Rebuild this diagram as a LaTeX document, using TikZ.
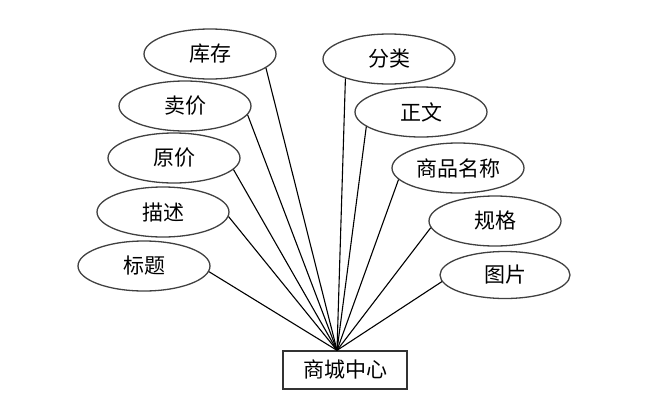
\documentclass[tikz,border=0pt]{standalone}
\usepackage{fontspec}
\newfontfamily\cjk{Noto Sans CJK SC}
\usetikzlibrary{shapes.geometric}
\begin{document}
\begin{tikzpicture}[x=1pt,y=-1pt,
  attr/.style={ellipse,draw=black!75,line width=1.3pt,minimum width=132pt,minimum height=50pt,inner sep=0pt,font=\cjk\fontsize{21}{24}\selectfont},
  ent/.style={rectangle,draw=black!80,line width=1.3pt,minimum width=124pt,minimum height=38pt,inner sep=0pt,font=\cjk\fontsize{21}{24}\selectfont},
  link/.style={draw=black,line width=1.1pt}]
\useasboundingbox (0,0) rectangle (648,407);
\node[attr] (kc) at (210,54) {库存};
\node[attr] (mj) at (185,106) {卖价};
\node[attr] (yj) at (174,158) {原价};
\node[attr] (ms) at (163,212) {描述};
\node[attr] (bt) at (144,266) {标题};
\node[attr] (fl) at (389,59) {分类};
\node[attr] (zw) at (421,112) {正文};
\node[attr] (mc) at (458,168) {商品名称};
\node[attr] (gg) at (495,221) {规格};
\node[attr,minimum height=47pt,minimum width=130pt] (tp) at (505,275) {图片};
\node[ent] (sc) at (345,370) {商城中心};
\coordinate (hub) at ([xshift=-8pt]sc.north);
\draw[link] (hub) -- (kc.-14);
\draw[link] (hub) -- (mj.-8);
\draw[link] (hub) -- (yj.-11.5);
\draw[link] (hub) -- (ms.-4);
\draw[link] (hub) -- (bt.-5);
\draw[link] (hub) -- (fl.204);
\draw[link] (hub) -- (zw.195.5);
\draw[link] (hub) -- (mc.191.5);
\draw[link] (hub) -- (gg.186);
\draw[link] (hub) -- (tp.186.5);
\end{tikzpicture}
\end{document}
